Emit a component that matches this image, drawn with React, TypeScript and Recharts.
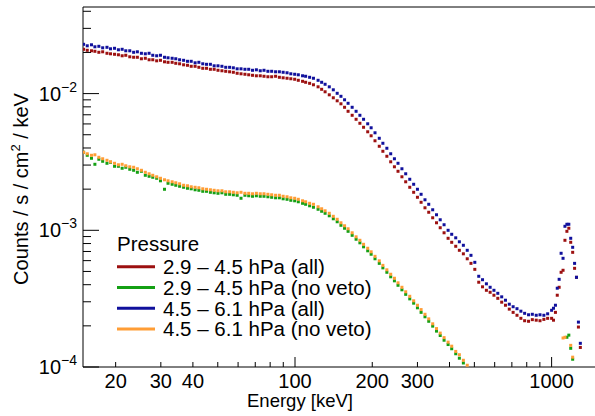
import React from 'react';
import { ScatterChart, Scatter, XAxis, YAxis, ReferenceLine } from 'recharts';

// Bin centres (keV)
const energies = [
  15.0, 15.5, 16.1, 16.6, 17.2, 17.8, 18.5, 19.1, 19.8, 20.5,
  21.2, 21.9, 22.7, 23.5, 24.3, 25.2, 26.1, 27.0, 27.9, 28.9,
  29.9, 31.0, 32.0, 33.2, 34.3, 35.5, 36.8, 38.1, 39.4, 40.8,
  42.2, 43.7, 45.2, 46.8, 48.4, 50.1, 51.9, 53.7, 55.6, 57.5,
  59.5, 61.6, 63.8, 66.0, 68.3, 70.7, 73.2, 75.7, 78.4, 81.1,
  84.0, 86.9, 89.9, 93.1, 96.3, 99.7, 103, 107, 110, 114,
  118, 123, 127, 131, 136, 141, 146, 151, 156, 161,
  167, 173, 179, 185, 192, 198, 205, 213, 220, 228,
  236, 244, 252, 261, 270, 280, 290, 300, 310, 321,
  332, 344, 356, 368, 381, 395, 408, 423, 437, 453,
  469, 485, 502, 520, 538, 557, 576, 596, 617, 639,
  661, 684, 708, 733, 759, 785, 813, 841, 871, 901,
  933, 965, 1000, 1017, 1035, 1052, 1070, 1089, 1108, 1127,
  1147, 1167, 1187, 1208, 1229, 1250, 1272, 1294,
];

// 2.9 – 4.5 hPa (all)
const redAll = [
  0.02109, 0.02074, 0.02057, 0.02039, 0.02005, 0.02022, 0.01972, 0.01955, 0.01939, 0.01923,
  0.01891, 0.01907, 0.01859, 0.01844, 0.01844, 0.01798, 0.01813, 0.01768, 0.01768, 0.01737,
  0.01752, 0.01708, 0.01694, 0.01694, 0.01666, 0.01652, 0.01624, 0.01611, 0.01584, 0.01584,
  0.01557, 0.01531, 0.01531, 0.01506, 0.01506, 0.01481, 0.01469, 0.01456, 0.01444, 0.01432,
  0.01408, 0.01396, 0.01385, 0.01373, 0.01361, 0.01350, 0.01350, 0.01339, 0.01328, 0.01328,
  0.01339, 0.01316, 0.01305, 0.01295, 0.01284, 0.01273, 0.01251, 0.01230, 0.01210, 0.01189,
  0.01160, 0.01121, 0.01075, 0.01031, 0.00980, 0.00932, 0.008858, 0.008422, 0.007941, 0.007422,
  0.006939, 0.006488, 0.006065, 0.005670, 0.005256, 0.004913, 0.004517, 0.004118, 0.003785, 0.003480,
  0.003171, 0.002915, 0.002702, 0.002463, 0.002264, 0.002064, 0.001897, 0.001744, 0.001603, 0.001461,
  0.001355, 0.001235, 0.001135, 0.001044, 0.000959, 0.000874, 0.000817, 0.000764, 0.000714, 0.000673,
  0.000619, 0.000573, 0.000518, 0.000417, 0.000386, 0.000364, 0.000352, 0.000335, 0.000318, 0.000298,
  0.000283, 0.000265, 0.000251, 0.000239, 0.000227, 0.000218, 0.000216, 0.000222, 0.000220, 0.000218,
  0.000223, 0.000227, 0.000227, 0.000220, 0.000251, 0.000335, 0.000383, 0.000493, 0.000510, 0.000845,
  0.000983, 0.001035, 0.000817, 0.000690, 0.000527, 0.000453, 0.000196, 0.000139,
];

// 2.9 – 4.5 hPa (no veto)
const greenNoVeto = [
  0.003722, 0.003538, 0.003364, 0.003040, 0.003308, 0.003198, 0.003092, 0.003144, 0.002940, 0.002940,
  0.002843, 0.002891, 0.002795, 0.002748, 0.002657, 0.002702, 0.002526, 0.002484, 0.002443, 0.002402,
  0.002302, 0.001996, 0.002208, 0.002171, 0.002135, 0.002099, 0.002064, 0.002030, 0.002012, 0.001979,
  0.001962, 0.001929, 0.001929, 0.001897, 0.001881, 0.001865, 0.001881, 0.001834, 0.001834, 0.001819,
  0.001804, 0.001715, 0.001804, 0.001789, 0.001774, 0.001789, 0.001774, 0.001774, 0.001759, 0.001744,
  0.001729, 0.001729, 0.001700, 0.001686, 0.001658, 0.001644, 0.001617, 0.001576, 0.001550, 0.001511,
  0.001474, 0.001425, 0.001378, 0.001332, 0.001277, 0.001214, 0.001155, 0.001088, 0.001035, 0.000983,
  0.000919, 0.000860, 0.000810, 0.000757, 0.000708, 0.000668, 0.000619, 0.000573, 0.000531, 0.000493,
  0.000457, 0.000427, 0.000396, 0.000367, 0.000340, 0.000315, 0.000293, 0.000271, 0.000251, 0.000233,
  0.000216, 0.000199, 0.000183, 0.000170, 0.000157, 0.000146, 0.000136, 0.000125, 0.000116, 0.000107,
  null, null, null, null, null, null, null, null, null, null,
  null, null, null, null, null, null, null, null, null, null,
  null, null, null, null, null, null, null, null, null, null,
  0.000165, 0.000171, 0.000137, 0.000114, null, null, null, null,
];

// 4.5 – 6.1 hPa (all)
const blueAll = [
  0.02294, 0.02237, 0.02275, 0.02200, 0.02218, 0.02163, 0.02181, 0.02127, 0.02145, 0.02092,
  0.02109, 0.02057, 0.02057, 0.02005, 0.02022, 0.01972, 0.01955, 0.01972, 0.01907, 0.01891,
  0.01907, 0.01844, 0.01828, 0.01813, 0.01798, 0.01768, 0.01752, 0.01723, 0.01723, 0.01680,
  0.01694, 0.01652, 0.01638, 0.01638, 0.01597, 0.01597, 0.01584, 0.01557, 0.01557, 0.01544,
  0.01518, 0.01518, 0.01506, 0.01506, 0.01481, 0.01493, 0.01469, 0.01481, 0.01456, 0.01456,
  0.01444, 0.01444, 0.01432, 0.01420, 0.01396, 0.01385, 0.01373, 0.01350, 0.01339, 0.01316,
  0.01295, 0.01251, 0.01210, 0.01170, 0.01121, 0.01066, 0.01005, 0.009555, 0.009009, 0.008493,
  0.007941, 0.007422, 0.006939, 0.006488, 0.006014, 0.005622, 0.005168, 0.004711, 0.004331, 0.003982,
  0.003629, 0.003336, 0.003092, 0.002819, 0.002591, 0.002362, 0.002171, 0.001996, 0.001834, 0.001672,
  0.001550, 0.001413, 0.001299, 0.001194, 0.001098, 0.001000, 0.000935, 0.000881, 0.000824, 0.000777,
  0.000714, 0.000656, 0.000583, 0.000461, 0.000435, 0.000406, 0.000383, 0.000364, 0.000346, 0.000326,
  0.000308, 0.000288, 0.000276, 0.000267, 0.000256, 0.000247, 0.000241, 0.000243, 0.000239, 0.000241,
  0.000239, 0.000245, 0.000260, 0.000269, 0.000283, 0.000377, 0.000438, 0.000679, 0.000624, 0.001070,
  0.001107, 0.001107, 0.000874, 0.000751, 0.000573, 0.000453, 0.000213, 0.000149,
];

// 4.5 – 6.1 hPa (no veto)
const orangeNoVeto = [
  0.003722, 0.003629, 0.003538, 0.003568, 0.003421, 0.003336, 0.003252, 0.003171, 0.003092, 0.003015,
  0.003040, 0.002965, 0.002915, 0.002891, 0.002819, 0.002748, 0.002657, 0.002591, 0.002526, 0.002463,
  0.002402, 0.002342, 0.002302, 0.002264, 0.002226, 0.002189, 0.002135, 0.002117, 0.002081, 0.002064,
  0.002047, 0.002012, 0.001996, 0.001979, 0.001962, 0.001946, 0.001946, 0.001913, 0.001913, 0.001897,
  0.001881, 0.001897, 0.001865, 0.001865, 0.001850, 0.001865, 0.001850, 0.001850, 0.001834, 0.001819,
  0.001804, 0.001804, 0.001774, 0.001759, 0.001729, 0.001715, 0.001686, 0.001644, 0.001617, 0.001576,
  0.001550, 0.001486, 0.001437, 0.001389, 0.001332, 0.001266, 0.001204, 0.001135, 0.001079, 0.001026,
  0.000959, 0.000896, 0.000845, 0.000790, 0.000739, 0.000696, 0.000645, 0.000598, 0.000554, 0.000514,
  0.000477, 0.000446, 0.000413, 0.000383, 0.000355, 0.000329, 0.000305, 0.000283, 0.000263, 0.000243,
  0.000225, 0.000207, 0.000191, 0.000177, 0.000164, 0.000152, 0.000142, 0.000130, 0.000123, 0.000112,
  0.000103, null, null, null, null, null, null, null, null, null,
  null, null, null, null, null, null, null, null, null, null,
  null, null, null, null, null, null, null, null, 0.000163, 0.000165,
  null, null, 0.000144, 0.000118, null, null, null, null,
];

const xTicks = [20, 30, 40, 50, 60, 70, 80, 90, 100, 200, 300, 400, 500, 600, 700, 800, 900, 1000];
const xLabeled = [20, 30, 40, 100, 200, 300, 1000];
const xMajor = [100, 1000];

const yTicks = [
  0.0001, 0.0002, 0.0003, 0.0004, 0.0005, 0.0006, 0.0007, 0.0008, 0.0009,
  0.001, 0.002, 0.003, 0.004, 0.005, 0.006, 0.007, 0.008, 0.009,
  0.01, 0.02, 0.03, 0.04,
];
const yMajor = [0.0001, 0.001, 0.01];
const yMajorExp: Record<string, string> = { '0.0001': '4', '0.001': '3', '0.01': '2' };

const legendTitle = 'Pressure';
const legendLabels = [
  '2.9 – 4.5 hPa (all)',
  '2.9 – 4.5 hPa (no veto)',
  '4.5 – 6.1 hPa (all)',
  '4.5 – 6.1 hPa (no veto)',
];

const COLORS = ['#9c1010', '#14a014', '#10109c', '#ff9d35'];
const FONT = '"Liberation Sans", Arial, Helvetica, sans-serif';

const X_DOMAIN: [number, number] = [14.92, 1476];
const Y_DOMAIN: [number, number] = [0.0001, 0.043];

const W = 595;
const H = 416;
const Y_AXIS_W = 40;
const X_AXIS_H = 30;
const M = { top: 7, right: 0, bottom: 49 - X_AXIS_H, left: 83 - Y_AXIS_W };
const PLOT_LEFT = 83;
const PLOT_BOTTOM = 367;

const toPoints = (vals: (number | null)[]) =>
  energies
    .map((e, i) => ({ e, v: vals[i] }))
    .filter((p) => p.v !== null && p.v !== undefined);

const seriesList = [
  { name: legendLabels[0], data: toPoints(redAll), color: COLORS[0] },
  { name: legendLabels[1], data: toPoints(greenNoVeto), color: COLORS[1] },
  { name: legendLabels[2], data: toPoints(blueAll), color: COLORS[2] },
  { name: legendLabels[3], data: toPoints(orangeNoVeto), color: COLORS[3] },
];

const makeShape = (color: string) => (props: any) => {
  const { cx, cy } = props;
  if (cx == null || cy == null || isNaN(cx) || isNaN(cy)) return <g />;
  return <rect x={cx - 1.5} y={cy - 1.5} width={3} height={3} fill={color} />;
};

const XTick = (props: any) => {
  const { x, payload } = props;
  const v = payload.value;
  const major = xMajor.includes(v);
  const labeled = xLabeled.includes(v);
  return (
    <g>
      <line x1={x} x2={x} y1={PLOT_BOTTOM} y2={PLOT_BOTTOM - (major ? 10 : 5)} stroke="#000" strokeWidth={1} />
      {labeled && (
        <text x={x} y={388} textAnchor="middle" fontSize={20} fontFamily={FONT} fill="#000">
          {v}
        </text>
      )}
    </g>
  );
};

const YTick = (props: any) => {
  const { y, payload } = props;
  const v = payload.value;
  const major = yMajor.includes(v);
  return (
    <g>
      <line x1={PLOT_LEFT} x2={PLOT_LEFT + (major ? 16 : 8)} y1={y} y2={y} stroke="#000" strokeWidth={1} />
      {major && (
        <text x={77} y={y + 7} textAnchor="end" fontSize={20} fontFamily={FONT} fill="#000">
          10
          <tspan dy={-9} fontSize={14}>
            {'−' + yMajorExp[String(v)]}
          </tspan>
        </text>
      )}
    </g>
  );
};

export default function App() {
  const rowY0 = 266.8;
  const rowStep = 20.7;
  return (
    <div style={{ position: 'absolute', left: 0, top: 0, width: W, height: H, background: '#fff' }}>
      <ScatterChart width={W} height={H} margin={M}>
        <XAxis
          type="number"
          dataKey="e"
          scale="log"
          domain={X_DOMAIN}
          allowDataOverflow
          ticks={xTicks}
          interval={0}
          height={X_AXIS_H}
          tickSize={0}
          tickMargin={0}
          tickLine={false}
          axisLine={{ stroke: '#000', strokeWidth: 1 }}
          tick={<XTick />}
        />
        <YAxis
          type="number"
          dataKey="v"
          scale="log"
          domain={Y_DOMAIN}
          allowDataOverflow
          ticks={yTicks}
          interval={0}
          width={Y_AXIS_W}
          tickSize={0}
          tickMargin={0}
          tickLine={false}
          axisLine={{ stroke: '#000', strokeWidth: 1 }}
          tick={<YTick />}
        />
        <ReferenceLine y={Y_DOMAIN[1]} stroke="#000" strokeWidth={1} />
        {seriesList.map((s) => (
          <Scatter
            key={s.name}
            name={s.name}
            data={s.data}
            fill={s.color}
            shape={makeShape(s.color)}
            isAnimationActive={false}
          />
        ))}
      </ScatterChart>
      <svg
        width={W}
        height={H}
        style={{ position: 'absolute', left: 0, top: 0, pointerEvents: 'none' }}
      >
        <text x={300} y={407} textAnchor="middle" fontSize={18.5} fontFamily={FONT} fill="#000">
          Energy [keV]
        </text>
        <text
          transform="translate(28,189) rotate(-90)"
          textAnchor="middle"
          fontSize={20}
          fontFamily={FONT}
          fill="#000"
        >
          Counts / s / cm
          <tspan dy={-8} fontSize={13}>2</tspan>
          <tspan dy={8}>{' / keV'}</tspan>
        </text>
        <text x={117} y={250.5} fontSize={20.5} fontFamily={FONT} fill="#000">
          {legendTitle}
        </text>
        {legendLabels.map((label, i) => {
          const y = rowY0 + i * rowStep;
          return (
            <g key={label}>
              <line x1={117} x2={155} y1={y} y2={y} stroke={COLORS[i]} strokeWidth={3} />
              <text x={163} y={y + 7.3} fontSize={20.5} fontFamily={FONT} fill="#000">
                {label}
              </text>
            </g>
          );
        })}
      </svg>
    </div>
  );
}
